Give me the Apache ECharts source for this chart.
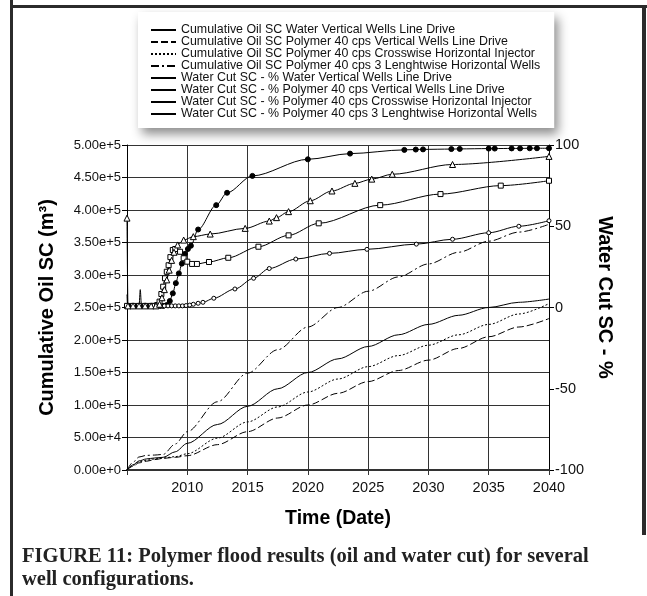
<!DOCTYPE html>
<html><head><meta charset="utf-8">
<script src="https://cdn.jsdelivr.net/npm/echarts@6/dist/echarts.min.js"></script>
<style>html,body{margin:0;padding:0;background:#fff}#c{width:647px;height:596px}</style>
</head><body><div id="c"></div>
<script>
// ---- data ----
const seriesNames = [
  'Cumulative Oil SC Water Vertical Wells Line Drive',
  'Cumulative Oil SC Polymer 40 cps Vertical Wells Line Drive',
  'Cumulative Oil SC Polymer 40 cps Crosswise Horizontal Injector',
  'Cumulative Oil SC Polymer 40 cps 3 Lenghtwise Horizontal Wells',
  'Water Cut SC - % Water Vertical Wells Line Drive',
  'Water Cut SC - % Polymer 40 cps Vertical Wells Line Drive',
  'Water Cut SC - % Polymer 40 cps Crosswise Horizontal Injector',
  'Water Cut SC - % Polymer 40 cps 3 Lenghtwise Horizontal Wells'
];
const xTicks = [2005, 2010, 2015, 2020, 2025, 2030, 2035, 2040];

const oilTime = [2005, 2005.5, 2006, 2006.6, 2007.3, 2008, 2009, 2010, 2012.5, 2015, 2017.5, 2020, 2022.5, 2025, 2027.5, 2030, 2032.5, 2035, 2037.5, 2040];
const oilWaterVertical = [0, 8e3, 1.4e4, 1.7e4, 1.85e4, 1.95e4, 2.8e4, 4.1e4, 7.0e4, 9.8e4, 1.25e5, 1.5e5, 1.71e5, 1.9e5, 2.08e5, 2.24e5, 2.38e5, 2.5e5, 2.58e5, 2.63e5];
const oilPolymerVertical = [0, 6e3, 1.1e4, 1.35e4, 1.6e4, 1.8e4, 1.95e4, 2.2e4, 3.9e4, 5.9e4, 8.0e4, 1.0e5, 1.18e5, 1.36e5, 1.53e5, 1.69e5, 1.87e5, 2.05e5, 2.2e5, 2.33e5];
const oilPolymerCrosswise = [0, 7e3, 1.25e4, 1.5e4, 1.7e4, 1.85e4, 2.05e4, 2.5e4, 4.9e4, 7.4e4, 9.7e4, 1.2e5, 1.4e5, 1.59e5, 1.76e5, 1.92e5, 2.08e5, 2.24e5, 2.4e5, 2.56e5];
const oilPolymerLengthwise = [0, 1.2e4, 2.0e4, 2.25e4, 2.3e4, 2.4e4, 4.0e4, 5.9e4, 1.05e5, 1.49e5, 1.85e5, 2.2e5, 2.5e5, 2.75e5, 2.97e5, 3.17e5, 3.35e5, 3.52e5, 3.66e5, 3.78e5];

const wcWaterVerticalTime = [2005.0, 2005.25, 2005.5, 2005.75, 2006.0, 2006.1, 2006.2, 2006.5, 2006.75, 2007.0, 2007.25, 2007.5, 2007.75, 2008.0, 2008.3, 2008.55, 2008.8, 2009.05, 2009.3, 2009.55, 2009.8, 2010.05, 2010.3, 2010.9, 2012.4, 2013.3, 2015.4, 2020.0, 2023.5, 2028.0, 2028.95, 2029.55, 2031.9, 2032.6, 2035.0, 2035.5, 2036.9, 2037.6, 2038.4, 2039.0, 2040];
const wcWaterVertical = [1, 1, 1, 1, 1, 11, 1, 1, 1, 1, 1, 1, 1, 1, 1.5, 4, 8.7, 15, 21, 27, 33, 36, 38, 48, 63, 70.6, 81, 91.2, 94.7, 97, 97.2, 97.3, 97.5, 97.6, 97.8, 97.8, 97.9, 97.9, 98, 98, 98];
const wcWaterVerticalSpikes = [5];

const wcPolymerVerticalTime = [2005.0, 2005.05, 2005.5, 2006, 2006.5, 2007, 2007.5, 2007.8, 2008.1, 2008.4, 2008.7, 2009.0, 2009.3, 2009.6, 2009.9, 2010.2, 2010.5, 2010.9, 2011.3, 2012.2, 2013.95, 2015.5, 2016.8, 2019.0, 2021.8, 2024.9, 2029.0, 2032.0, 2035.0, 2037.5, 2040];
const wcPolymerVertical = [8, 1, 1, 1, 1, 1, 1, 1, 1, 1, 1, 1, 1, 1, 1.2, 1.5, 2, 2.6, 3.2, 5.7, 11.4, 18, 24, 29.8, 33.3, 35.8, 39, 42, 46, 50, 53.4];
const wcPolymerVerticalSpikes = [0];

const wcCrosswiseTime = [2005, 2005.5, 2006, 2006.5, 2007, 2007.3, 2007.5, 2007.7, 2007.85, 2008.0, 2008.15, 2008.3, 2008.45, 2008.6, 2008.8, 2009.0, 2009.4, 2009.7, 2010.0, 2010.4, 2010.8, 2011.8, 2013.4, 2015.9, 2018.4, 2020.9, 2026.0, 2031.0, 2036.0, 2040];
const wcCrosswise = [1, 1, 1, 1, 1, 1, 1.5, 3.6, 8.3, 12.8, 18, 22, 26, 31, 35.4, 36, 34.3, 30.3, 28.2, 26.8, 26.8, 28, 30.6, 37.4, 44.4, 51.8, 63, 69.8, 75, 78];

const wcLengthwiseTime = [2005, 2005.08, 2005.5, 2006, 2006.5, 2007, 2007.4, 2007.7, 2007.9, 2008.1, 2008.3, 2008.5, 2008.7, 2008.9, 2009.2, 2009.7, 2010.5, 2011.9, 2014.8, 2016.8, 2017.4, 2018.4, 2020.2, 2022.0, 2023.9, 2025.3, 2027.0, 2032.0, 2040];
const wcLengthwise = [55, 1, 1, 1, 1, 1, 1, 2, 6, 11, 17, 23, 29, 34, 38.5, 41.5, 43.6, 45.2, 48.7, 53.2, 55.3, 59, 65.7, 71.7, 76.4, 79, 82, 88, 93];

const captionLines = [
  'FIGURE 11: Polymer flood results (oil and water cut) for several',
  'well configurations.'
];

// ---- chart ----
const zip = (xs, ys, noMark) => xs.map((x, i) =>
  (noMark && noMark.indexOf(i) >= 0) ? {value: [x, ys[i]], symbol: 'none'} : [x, ys[i]]);
const SANS = 'Liberation Sans, Arial, Helvetica, sans-serif';
const chart = echarts.init(document.getElementById('c'), null, {renderer: 'canvas'});

function oilSeries(name, ys, type) {
  return {
    name, type: 'line', xAxisIndex: 0, yAxisIndex: 0,
    data: zip(oilTime, ys), smooth: 0.3, smoothMonotone: 'x',
    symbol: 'none', lineStyle: {color: '#000', width: 1, type: type}, z: 3
  };
}
function wcSeries(name, data, symbol, size, filled) {
  return {
    name, type: 'line', xAxisIndex: 0, yAxisIndex: 1,
    data, smooth: 0.3, smoothMonotone: 'x',
    symbol, symbolSize: size, showSymbol: true,
    lineStyle: {color: '#000', width: 1},
    itemStyle: {color: filled ? '#000' : '#fff', borderColor: '#000', borderWidth: 1},
    z: 4
  };
}

chart.setOption({
  animation: false,
  backgroundColor: '#fff',
  grid: {left: 127, right: 98, top: 145, bottom: 126},
  legend: {
    orient: 'vertical', left: 138, top: 12,
    padding: [12, 14, 8, 12],
    itemWidth: 25, itemHeight: 10, itemGap: 0,
    backgroundColor: '#fff',
    shadowColor: 'rgba(0,0,0,0.45)', shadowBlur: 10, shadowOffsetX: 4, shadowOffsetY: 6,
    textStyle: {fontFamily: SANS, fontSize: 12.4, color: '#111', lineHeight: 11.9},
    itemStyle: {opacity: 0},
    data: seriesNames
  },
  xAxis: {
    type: 'value', min: 2005, max: 2040, interval: 5,
    name: 'Time (Date)', nameLocation: 'middle', nameGap: 39,
    nameTextStyle: {fontFamily: SANS, fontSize: 19.5, fontWeight: 'bold', color: '#000'},
    axisLine: {lineStyle: {color: '#333', width: 2}},
    axisTick: {show: true, length: 5, lineStyle: {color: '#333'}},
    axisLabel: {margin: 10, fontFamily: SANS, fontSize: 14.5, color: '#111',
      formatter: v => (v === xTicks[0] ? '' : String(v))},
    splitLine: {show: true, lineStyle: {color: '#333', width: 1}}
  },
  yAxis: [{
    type: 'value', min: 0, max: 5e5, interval: 5e4, position: 'left',
    name: 'Cumulative Oil SC (m³)', nameLocation: 'middle', nameGap: 70,
    nameTextStyle: {fontFamily: SANS, fontSize: 20, fontWeight: 'bold', color: '#000'},
    axisLine: {show: true, lineStyle: {color: '#000', width: 1}},
    axisTick: {show: true, length: 5, lineStyle: {color: '#000'}},
    axisLabel: {margin: 6, fontFamily: SANS, fontSize: 13, color: '#111',
      formatter: v => v.toExponential(2)},
    splitLine: {show: true, lineStyle: {color: '#333', width: 1}}
  }, {
    type: 'value', min: -100, max: 100, interval: 50, position: 'right',
    name: 'Water Cut SC - %', nameLocation: 'middle', nameGap: 44, nameRotate: -90,
    nameTextStyle: {fontFamily: SANS, fontSize: 20, fontWeight: 'bold', color: '#000', padding: [0, 20, 0, 0]},
    axisLine: {show: true, lineStyle: {color: '#000', width: 1}},
    axisTick: {show: true, length: 5, lineStyle: {color: '#000'}},
    axisLabel: {margin: 6, fontFamily: SANS, fontSize: 14.5, color: '#111'},
    splitLine: {show: false}
  }],
  series: [
    oilSeries(seriesNames[0], oilWaterVertical, 'solid'),
    oilSeries(seriesNames[1], oilPolymerVertical, [7, 3]),
    oilSeries(seriesNames[2], oilPolymerCrosswise, [2, 2]),
    oilSeries(seriesNames[3], oilPolymerLengthwise, [8, 3, 2, 3]),
    wcSeries(seriesNames[4], zip(wcWaterVerticalTime, wcWaterVertical, wcWaterVerticalSpikes), 'circle', 5, true),
    wcSeries(seriesNames[5], zip(wcPolymerVerticalTime, wcPolymerVertical, wcPolymerVerticalSpikes), 'circle', 4, false),
    wcSeries(seriesNames[6], zip(wcCrosswiseTime, wcCrosswise), 'rect', 5, false),
    wcSeries(seriesNames[7], zip(wcLengthwiseTime, wcLengthwise), 'triangle', 6, false)
  ],
  graphic: [
    {type: 'line', shape: {x1: 11.5, y1: 0, x2: 11.5, y2: 596}, style: {stroke: '#2b2b2b', lineWidth: 3}, silent: true},
    {type: 'line', shape: {x1: 10, y1: 6.5, x2: 647, y2: 6.5}, style: {stroke: '#2b2b2b', lineWidth: 3}, silent: true},
    {type: 'line', shape: {x1: 644, y1: 5, x2: 644, y2: 535}, style: {stroke: '#2b2b2b', lineWidth: 4}, silent: true},
    {type: 'text', left: 22, top: 546, style: {text: captionLines[0], font: 'bold 20.5px "Liberation Serif", "Times New Roman", serif', fill: '#222'}},
    {type: 'text', left: 22, top: 569, style: {text: captionLines[1], font: 'bold 20.5px "Liberation Serif", "Times New Roman", serif', fill: '#222'}}
  ]
});
</script></body></html>
